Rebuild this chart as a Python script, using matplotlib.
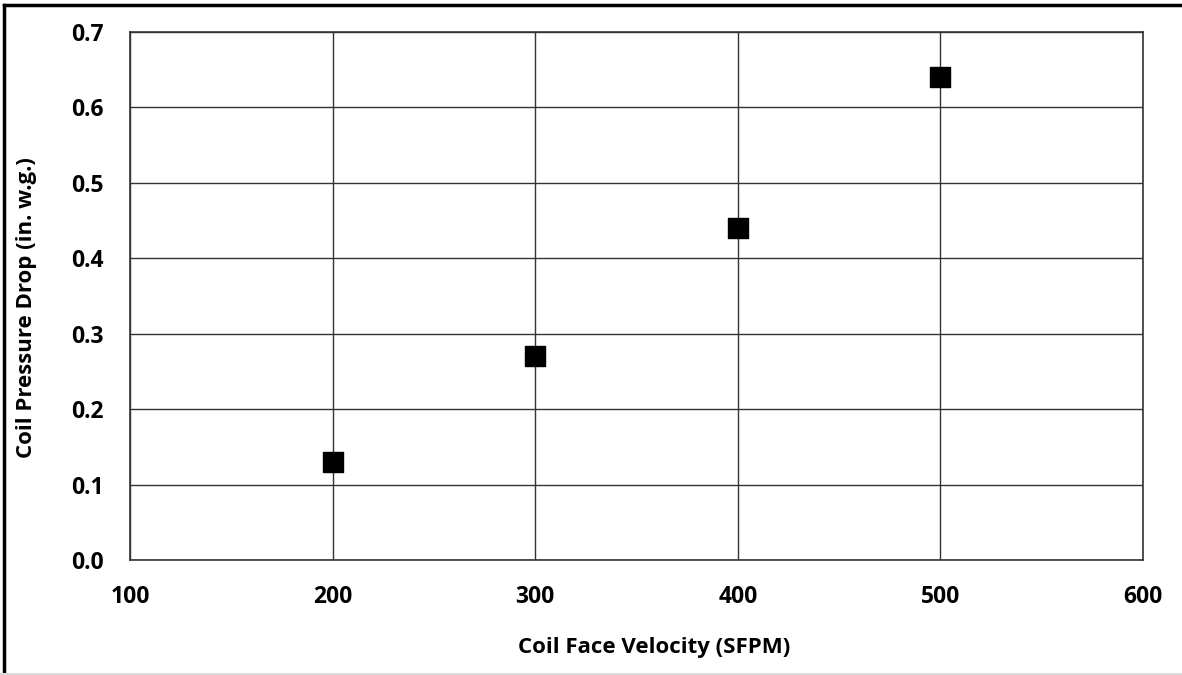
import matplotlib.pyplot as plt
from matplotlib.lines import Line2D

# Data
velocity = [200, 300, 400, 500]
pressure_drop = [0.13, 0.27, 0.44, 0.64]

x_ticks = [100, 200, 300, 400, 500, 600]
y_ticks = [0.0, 0.1, 0.2, 0.3, 0.4, 0.5, 0.6, 0.7]

plt.rcParams['font.family'] = ['Open Sans', 'DejaVu Sans']

fig = plt.figure(figsize=(11.82, 6.75), dpi=100)
ax = fig.add_axes([0.110, 0.170, 0.857, 0.783])

ax.scatter(velocity, pressure_drop, marker='s', s=14.5**2, color='black', zorder=3)

ax.set_xlim(100, 600)
ax.set_ylim(0, 0.7)
ax.set_xticks(x_ticks)
ax.set_yticks(y_ticks)
ax.set_yticklabels([f'{v:.1f}' for v in y_ticks])
ax.tick_params(length=0, labelsize=16.5)
ax.tick_params(axis='y', pad=19)
ax.tick_params(axis='x', pad=18)
for lbl in ax.get_xticklabels() + ax.get_yticklabels():
    lbl.set_fontweight('bold')

ax.grid(True, color='#333333', linewidth=1.0)
ax.set_axisbelow(True)
for sp in ax.spines.values():
    sp.set_color('#333333')
    sp.set_linewidth(1.2)

ax.set_xlabel('Coil Face Velocity (SFPM)', fontsize=16, fontweight='bold')
ax.set_ylabel('Coil Pressure Drop (in. w.g.)', fontsize=16, fontweight='bold')
ax.xaxis.set_label_coords(0.517, -0.145)
ax.yaxis.set_label_coords(-0.092, 0.479)

# Outer frame: black top and left, light grey bottom
fig.lines.append(Line2D([0.0035, 1.0], [0.993, 0.993], transform=fig.transFigure, color='black', linewidth=2.5))
fig.lines.append(Line2D([0.0035, 0.0035], [0.0, 0.993], transform=fig.transFigure, color='black', linewidth=2.5))
fig.lines.append(Line2D([0.0, 1.0], [0.002, 0.002], transform=fig.transFigure, color='#d9d9d9', linewidth=1.5))

fig.savefig('out.png', dpi=100)
